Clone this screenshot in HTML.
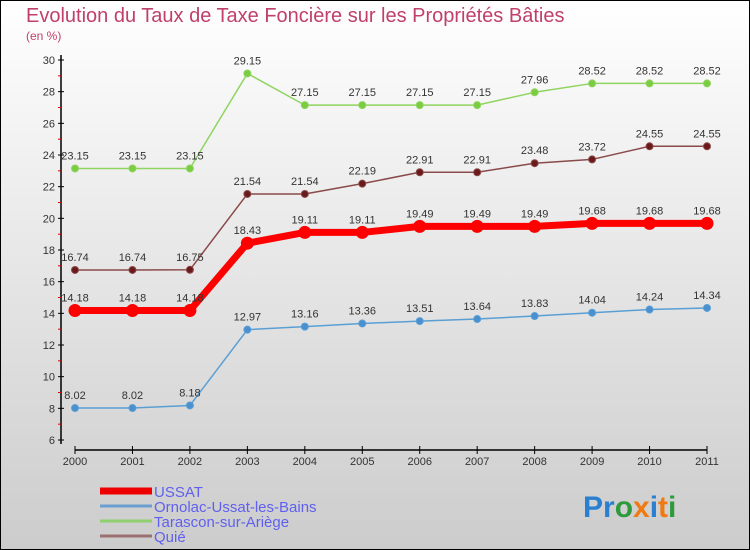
<!DOCTYPE html>
<html><head><meta charset="utf-8"><style>
body{margin:0;width:750px;height:550px;overflow:hidden;font-family:"Liberation Sans",sans-serif}
#c{position:absolute;left:0;top:0}
</style></head><body>
<svg id="c" width="750" height="550" xmlns="http://www.w3.org/2000/svg">
<defs><linearGradient id="bg" x1="0" y1="0" x2="0" y2="1"><stop offset="0" stop-color="#ffffff"/><stop offset="1" stop-color="#cccccc"/></linearGradient></defs>
<rect x="0.5" y="0.5" width="749" height="549" fill="url(#bg)" stroke="#000"/>
<text x="26" y="22" font-size="20" fill="#c0406a">Evolution du Taux de Taxe Foncière sur les Propriétés Bâties</text>
<text x="26" y="40" font-size="12" fill="#c0406a">(en %)</text>
<g id="axes"></g><g id="series"></g><g id="legend"></g>
<text x="583" y="517" font-size="30" font-weight="bold"><tspan fill="#2a7fd0">Pr</tspan><tspan fill="#2e9a3c">o</tspan><tspan fill="#f07a10">x</tspan><tspan fill="#2a7fd0">i</tspan><tspan fill="#f07a10">t</tspan><tspan fill="#2e9a3c">i</tspan></text>
</svg>
<script>
const years=["2000","2001","2002","2003","2004","2005","2006","2007","2008","2009","2010","2011"];
const ussat=[14.18,14.18,14.18,18.43,19.11,19.11,19.49,19.49,19.49,19.68,19.68,19.68];
const ornolac=[8.02,8.02,8.18,12.97,13.16,13.36,13.51,13.64,13.83,14.04,14.24,14.34];
const tarascon=[23.15,23.15,23.15,29.15,27.15,27.15,27.15,27.15,27.96,28.52,28.52,28.52];
const quie=[16.74,16.74,16.75,21.54,21.54,22.19,22.91,22.91,23.48,23.72,24.55,24.55];
const yTicks=[6,8,10,12,14,16,18,20,22,24,26,28,30];
const NS="http://www.w3.org/2000/svg";
const xs=i=>75+i*(707-75)/11;
const ys=v=>440-(v-6)*(380/24);
function mk(tag,attrs,parent){const e=document.createElementNS(NS,tag);for(const k in attrs)e.setAttribute(k,attrs[k]);parent.appendChild(e);return e;}
const ax=document.getElementById('axes');
let e=mk('line',{x1:61,y1:55,x2:61,y2:444,stroke:'#000','stroke-width':1.5},ax);


e=mk('line',{x1:75,y1:450,x2:707,y2:450,stroke:'#000','stroke-width':1.5},ax);


yTicks.forEach(v=>{
 mk('line',{x1:58,y1:ys(v),x2:64,y2:ys(v),stroke:'#000'},ax);
 if(v<30)mk('line',{x1:58,y1:ys(v+1),x2:61,y2:ys(v+1),stroke:'#d00'},ax);
 const t=mk('text',{x:55,y:ys(v)+4,'font-size':11,'text-anchor':'end',fill:'#333'},ax);t.textContent=v;
 
 
});
years.forEach((y,i)=>{
 mk('line',{x1:xs(i),y1:446,x2:xs(i),y2:454,stroke:'#000'},ax);
 const t=mk('text',{x:xs(i),y:465,'font-size':11,'text-anchor':'middle',fill:'#333'},ax);t.textContent=y;
 
 
});
const sg=document.getElementById('series');
function series(data,color,fill,w,r,name,labels){
 const g=mk('g',{},sg);
 
 
 mk('polyline',{points:data.map((v,i)=>xs(i)+','+ys(v)).join(' '),fill:'none',stroke:color,'stroke-width':w,'stroke-linejoin':'round'},g);
 data.forEach((v,i)=>{
  const c=mk('circle',{cx:xs(i),cy:ys(v),r:r,fill:fill,stroke:color,'stroke-width':1},g);
  
  
  if(labels){const t=mk('text',{x:xs(i),y:ys(v)-9,'font-size':11,'text-anchor':'middle',fill:'#333'},g);t.textContent=v;
   
   }
 });
}
series(ornolac,'#5a9fd4','#4a90d0',1.5,3.5,'series-ornolac',true);
series(tarascon,'#8fd460','#7acc40',1.5,3.5,'series-tarascon',true);
series(quie,'#8a4a4a','#6a1a1a',1.5,3.5,'series-quie',true);
series(ussat,'#ff0000','#ff0000',7,6,'series-ussat',true);
const lg=document.getElementById('legend');
[['USSAT','#ee0000',7],['Ornolac-Ussat-les-Bains','#6a9fcf',3],['Tarascon-sur-Ariège','#90d070',3],['Quié','#9a7070',3]].forEach((d,i)=>{
 const y=491+i*15;
 const g=mk('g',{},lg);
 
 
 mk('line',{x1:100,y1:y,x2:152,y2:y,stroke:d[1],'stroke-width':d[2]},g);
 const t=mk('text',{x:154,y:y+6,'font-size':15,fill:'#6060f0'},g);t.textContent=d[0];
});
</script>
</body></html>
